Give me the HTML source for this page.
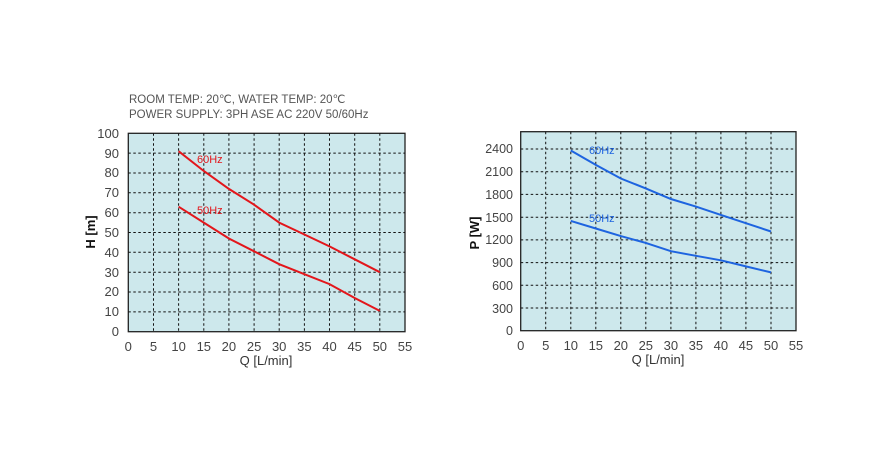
<!DOCTYPE html>
<html><head><meta charset="utf-8"><style>
body{margin:0;background:#fff;}
svg{display:block;font-family:"Liberation Sans",sans-serif;}
.t{font-size:13px;fill:#444;}
.t2{font-size:12.5px;fill:#444;}
.g{stroke:#111;stroke-width:1;stroke-dasharray:2.5,2.5;fill:none;}
</style></head><body>
<svg width="880" height="450" viewBox="0 0 880 450">
<text x="129" y="103" font-size="11.5" fill="#555">ROOM TEMP: 20℃, WATER TEMP: 20℃</text>
<text x="129" y="118" font-size="11.5" fill="#555">POWER SUPPLY: 3PH ASE  AC 220V 50/60Hz</text>

<!-- left chart -->
<rect x="128.3" y="133.3" width="276.7" height="198.4" fill="#cde8ec" stroke="#222" stroke-width="1.3"/>
<g class="g">
<path d="M153.5 133.3V331.7M178.6 133.3V331.7M203.8 133.3V331.7M228.9 133.3V331.7M254.1 133.3V331.7M279.2 133.3V331.7M304.4 133.3V331.7M329.5 133.3V331.7M354.7 133.3V331.7M379.8 133.3V331.7"/>
<path d="M128.3 311.9H405M128.3 292.0H405M128.3 272.2H405M128.3 252.3H405M128.3 232.5H405M128.3 212.7H405M128.3 192.8H405M128.3 173.0H405M128.3 153.1H405"/>
</g>
<polyline fill="none" stroke="#e3161b" stroke-width="2" points="178.6,151.2 203.8,171.0 228.9,188.9 254.1,204.7 279.2,222.6 304.4,234.5 329.5,246.4 354.7,259.3 379.8,272.2"/>
<polyline fill="none" stroke="#e3161b" stroke-width="2" points="178.6,206.7 203.8,222.6 228.9,238.5 254.1,251.3 279.2,264.2 304.4,274.2 329.5,284.1 354.7,298.0 379.8,310.9"/>
<text x="197" y="163" font-size="11" fill="#e3161b">60Hz</text>
<text x="197" y="214" font-size="11" fill="#e3161b">50Hz</text>
<g class="t" text-anchor="end">
<text x="119" y="336">0</text><text x="119" y="316">10</text><text x="119" y="296">20</text><text x="119" y="277">30</text><text x="119" y="257">40</text><text x="119" y="237">50</text><text x="119" y="217">60</text><text x="119" y="197">70</text><text x="119" y="177">80</text><text x="119" y="158">90</text><text x="119" y="138">100</text>
</g>
<g class="t" text-anchor="middle">
<text x="128.3" y="351">0</text><text x="153.5" y="351">5</text><text x="178.6" y="351">10</text><text x="203.8" y="351">15</text><text x="228.9" y="351">20</text><text x="254.1" y="351">25</text><text x="279.2" y="351">30</text><text x="304.4" y="351">35</text><text x="329.5" y="351">40</text><text x="354.7" y="351">45</text><text x="379.8" y="351">50</text><text x="405" y="351">55</text>
</g>
<text x="266" y="365" font-size="13" fill="#333" text-anchor="middle">Q [L/min]</text>
<text transform="translate(95,232) rotate(-90)" font-size="13" font-weight="bold" fill="#111" text-anchor="middle">H [m]</text>

<!-- right chart -->
<rect x="520.7" y="131.7" width="275.3" height="199" fill="#cde8ec" stroke="#222" stroke-width="1.3"/>
<g class="g">
<path d="M545.7 131.7V330.7M570.8 131.7V330.7M595.8 131.7V330.7M620.8 131.7V330.7M645.8 131.7V330.7M670.9 131.7V330.7M695.9 131.7V330.7M720.9 131.7V330.7M745.9 131.7V330.7M771.0 131.7V330.7"/>
<path d="M520.7 308.0H796M520.7 285.3H796M520.7 262.6H796M520.7 239.9H796M520.7 217.2H796M520.7 194.4H796M520.7 171.7H796M520.7 149.0H796"/>
</g>
<polyline fill="none" stroke="#1e64e0" stroke-width="2" points="570.8,150.5 595.8,164.9 620.8,178.5 645.8,188.4 670.9,199.0 695.9,206.6 720.9,214.9 745.9,223.2 771.0,231.5"/>
<polyline fill="none" stroke="#1e64e0" stroke-width="2" points="570.8,220.9 595.8,228.5 620.8,236.1 645.8,242.9 670.9,251.2 695.9,255.8 720.9,260.3 745.9,266.4 771.0,272.4"/>
<text x="589" y="154" font-size="11" fill="#1e64e0">60Hz</text>
<text x="589" y="222" font-size="11" fill="#1e64e0">50Hz</text>
<g class="t2" text-anchor="end">
<text x="513" y="335">0</text><text x="513" y="313">300</text><text x="513" y="290">600</text><text x="513" y="267">900</text><text x="513" y="244">1200</text><text x="513" y="222">1500</text><text x="513" y="199">1800</text><text x="513" y="176">2100</text><text x="513" y="153">2400</text>
</g>
<g class="t" text-anchor="middle">
<text x="520.7" y="350">0</text><text x="545.7" y="350">5</text><text x="570.8" y="350">10</text><text x="595.8" y="350">15</text><text x="620.8" y="350">20</text><text x="645.8" y="350">25</text><text x="670.9" y="350">30</text><text x="695.9" y="350">35</text><text x="720.9" y="350">40</text><text x="745.9" y="350">45</text><text x="771.0" y="350">50</text><text x="796" y="350">55</text>
</g>
<text x="658" y="364" font-size="13" fill="#333" text-anchor="middle">Q [L/min]</text>
<text transform="translate(479,233) rotate(-90)" font-size="13" font-weight="bold" fill="#111" text-anchor="middle">P [W]</text>
</svg>
</body></html>
